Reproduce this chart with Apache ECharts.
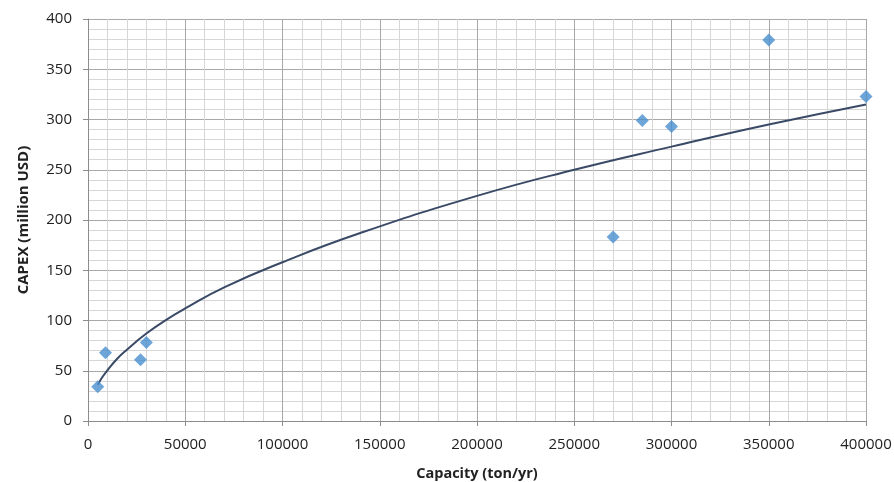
<!DOCTYPE html>
<html>
<head>
<meta charset="utf-8">
<script src="https://cdn.jsdelivr.net/npm/echarts@6/dist/echarts.min.js"></script>
<style>html,body{margin:0;padding:0;background:#fff}#c{width:894px;height:482px}</style>
</head>
<body>
<div id="c"></div>
<script>
// Data points
const capacity = [5000, 9000, 27000, 30000, 270000, 285000, 300000, 350000, 400000];
const capex    = [34, 68, 61, 78, 183, 299, 293, 379, 323];
// Trendline values
const trendX = [5000, 7500, 10000, 15000, 20000, 30000, 40000, 50000, 70000, 100000, 140000, 200000, 250000, 300000, 350000, 400000];
const trendY = [36, 44, 50.5, 62, 71, 87, 100.4, 112, 133, 158, 187, 224, 250, 273, 295, 315];
const xTicks = [0, 50000, 100000, 150000, 200000, 250000, 300000, 350000, 400000];
const yTicks = [0, 50, 100, 150, 200, 250, 300, 350, 400];

const font = "'Open Sans', 'Liberation Sans', sans-serif";
const chart = echarts.init(document.getElementById('c'));
chart.setOption({
  animation: false,
  grid: {left: 88, right: 28, top: 19, bottom: 61, containLabel: false, outerBoundsMode: 'none'},
  xAxis: {
    type: 'value', min: xTicks[0], max: xTicks[xTicks.length - 1], interval: xTicks[1] - xTicks[0],
    name: 'Capacity (ton/yr)', nameLocation: 'middle', nameGap: 45,
    nameTextStyle: {fontFamily: font, fontSize: 14.5, fontWeight: 'bold', color: '#222'},
    axisLine: {show: true, lineStyle: {color: '#8c8c8c', width: 1}},
    axisTick: {show: true, length: 5, lineStyle: {color: '#8c8c8c'}},
    axisLabel: {fontFamily: font, fontSize: 15, color: '#222', margin: 16, formatter: v => String(v)},
    splitLine: {show: true, lineStyle: {color: '#a8a8a8', width: 1}},
    minorTick: {show: false, splitNumber: 5},
    minorSplitLine: {show: true, lineStyle: {color: '#d6d6d6', width: 1}}
  },
  yAxis: {
    type: 'value', min: yTicks[0], max: yTicks[yTicks.length - 1], interval: yTicks[1] - yTicks[0],
    name: 'CAPEX (million USD)', nameLocation: 'middle', nameGap: 57,
    nameTextStyle: {fontFamily: font, fontSize: 15, fontWeight: 'bold', color: '#222'},
    axisLine: {show: true, lineStyle: {color: '#8c8c8c', width: 1}},
    axisTick: {show: true, length: 5, lineStyle: {color: '#8c8c8c'}},
    axisLabel: {fontFamily: font, fontSize: 15, color: '#222', margin: 16},
    splitLine: {show: true, lineStyle: {color: '#a8a8a8', width: 1}},
    minorTick: {show: false, splitNumber: 5},
    minorSplitLine: {show: true, lineStyle: {color: '#d6d6d6', width: 1}}
  },
  series: [
    {
      type: 'line', data: trendX.map((x, i) => [x, trendY[i]]),
      smooth: 0.5, showSymbol: false, symbol: 'none',
      lineStyle: {color: '#3a4a66', width: 2}, z: 2
    },
    {
      type: 'scatter', data: capacity.map((x, i) => [x, capex[i]]),
      symbol: 'diamond', symbolSize: [13, 13],
      itemStyle: {color: '#4a8fd0'}, z: 3
    }
  ]
});
</script>
</body>
</html>
